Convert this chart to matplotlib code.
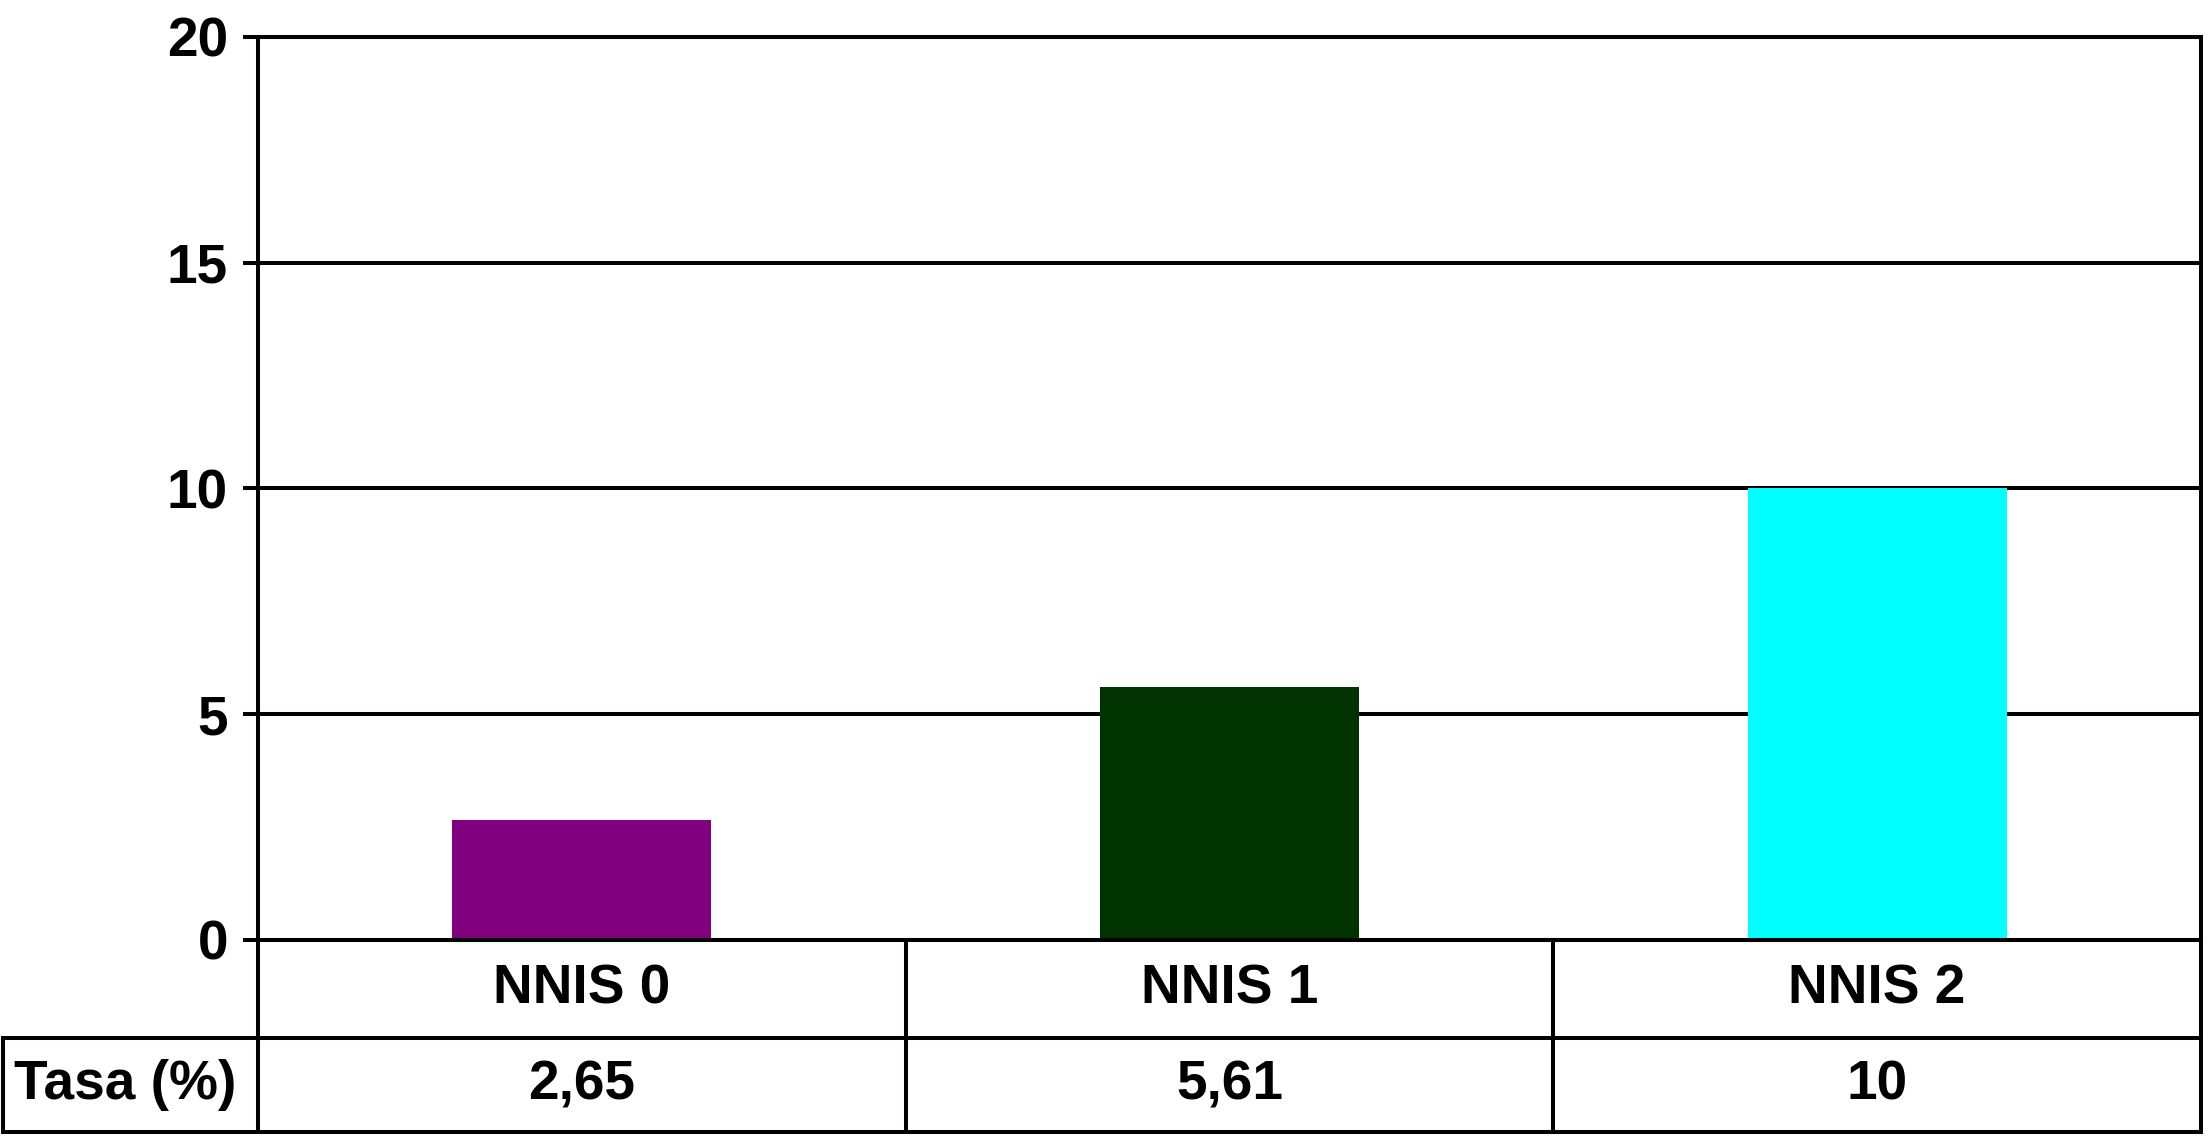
import matplotlib
matplotlib.use("Agg")
import matplotlib.pyplot as plt
from matplotlib.lines import Line2D
from matplotlib.transforms import blended_transform_factory

categories = ["NNIS 0", "NNIS 1", "NNIS 2"]
values = [2.65, 5.61, 10]
colors = ["#800080", "#003300", "#00FFFF"]
row_label = "Tasa (%)"
yticks = [0, 5, 10, 15, 20]

plt.rcParams['font.family'] = ['Liberation Sans', 'DejaVu Sans']
plt.rcParams['font.weight'] = 'bold'

W, H = 2208, 1139
fig = plt.figure(figsize=(W / 100, H / 100), dpi=100)
LW = 2.9
FS = 39.6

left_px, right_px, top_px, zero_px = 258, 2201, 37, 940
row1_px, bottom_px, table_left_px = 1038, 1132, 3

ax = fig.add_axes([left_px / W, 1 - zero_px / H, (right_px - left_px) / W, (zero_px - top_px) / H])
x = list(range(len(categories)))
ax.bar(x, values, width=0.4, color=colors, zorder=3)
ax.set_xlim(-0.5, len(categories) - 0.5)
ax.set_ylim(0, 20)
ax.set_yticks(yticks)
ax.set_yticklabels([str(t) for t in yticks], fontsize=FS, fontweight='bold')
ax.tick_params(axis='y', length=10.8, width=LW, direction='out', pad=10.8)
ax.tick_params(axis='x', length=0, labelbottom=False)
ax.yaxis.grid(True, color='black', linewidth=LW, zorder=1)
ax.set_axisbelow(True)
for s in ax.spines.values():
    s.set_linewidth(LW)
    s.set_zorder(4)

# table
def fy(px):
    return 1 - px / H

def fx(px):
    return px / W

bt = blended_transform_factory(ax.transData, fig.transFigure)
# horizontal lines
fig.add_artist(Line2D([fx(table_left_px), fx(right_px)], [fy(row1_px)] * 2, transform=fig.transFigure, color='k', lw=LW))
fig.add_artist(Line2D([fx(table_left_px), fx(right_px)], [fy(bottom_px)] * 2, transform=fig.transFigure, color='k', lw=LW))
# vertical lines
fig.add_artist(Line2D([fx(left_px)] * 2, [fy(zero_px), fy(bottom_px)], transform=fig.transFigure, color='k', lw=LW))
fig.add_artist(Line2D([fx(right_px)] * 2, [fy(zero_px), fy(bottom_px)], transform=fig.transFigure, color='k', lw=LW))
fig.add_artist(Line2D([fx(table_left_px)] * 2, [fy(row1_px), fy(bottom_px)], transform=fig.transFigure, color='k', lw=LW))
for i in range(1, len(categories)):
    fig.add_artist(Line2D([i - 0.5] * 2, [fy(zero_px), fy(bottom_px)], transform=bt, color='k', lw=LW))

ymid1 = fy((zero_px + row1_px) / 2)
ymid2 = fy((row1_px + bottom_px) / 2)
for i, (c, v) in enumerate(zip(categories, values)):
    fig.text(i, ymid1, c, transform=bt, ha='center', va='center', fontsize=FS, fontweight='bold')
    fig.text(i, ymid2, f"{v:g}".replace('.', ','), transform=bt, ha='center', va='center', fontsize=FS, fontweight='bold')
fig.text(fx(14), ymid2, row_label, ha='left', va='center', fontsize=FS, fontweight='bold')

fig.savefig("out.png", dpi=100)
